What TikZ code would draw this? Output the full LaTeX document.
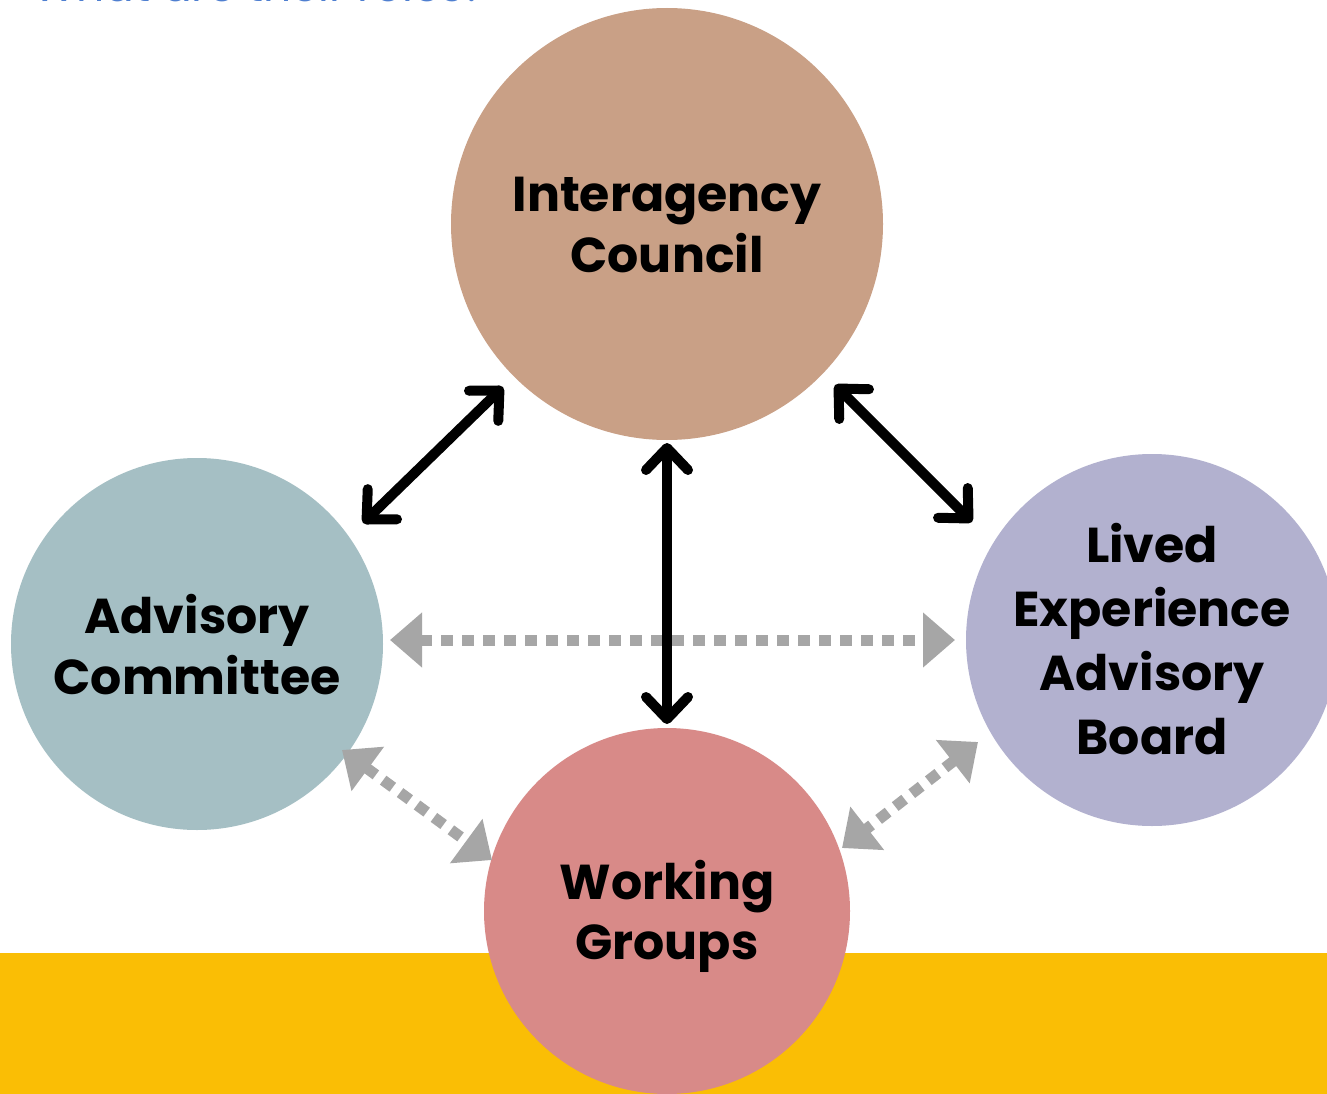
\documentclass[tikz,border=0pt]{standalone}
\usepackage{fontspec}
\setmainfont{Poppins}
\usetikzlibrary{arrows.meta,calc}
\definecolor{icC}{HTML}{C9A086}
\definecolor{acC}{HTML}{A5BFC4}
\definecolor{leC}{HTML}{B2B1CF}
\definecolor{wgC}{HTML}{D88A88}
\definecolor{bandC}{HTML}{FABE05}
\definecolor{grayA}{HTML}{A6A6A6}
\definecolor{blueT}{HTML}{4F7FD0}
\begin{document}
\begin{tikzpicture}[x=1pt,y=-1pt,
  circ/.style={circle,inner sep=0pt,minimum size=#1},
  lbl/.style={inner sep=0pt,align=center,text=black,font=\bfseries\fontsize{49}{#1}\selectfont},
  barrow/.style={line width=10pt,draw=black,{Straight Barb[round,length=22pt,width=42pt]}-{Straight Barb[round,length=22pt,width=42pt]}},
  garrow/.style={line width=11pt,draw=grayA,dash pattern=on 12pt off 9pt,{Triangle[length=32pt,width=53pt,fill=grayA]}-{Triangle[length=32pt,width=53pt,fill=grayA]}}
]
\useasboundingbox (0,0) rectangle (1327,1094);
\begin{scope}
\clip (0,0) rectangle (1327,1094);
\fill[white] (0,0) rectangle (1327,1094);
\node[anchor=base east,text=blueT,font=\fontsize{44}{44}\selectfont] (title) at (490,1.5) {What are their roles?};
\fill[bandC] (0,953) rectangle (1327,1094);
\node[circ=432pt,fill=icC] (ic) at (667,224) {};
\node[circ=372pt,fill=acC] (ac) at (197,644) {};
\node[circ=372pt,fill=leC] (le) at (1152,640) {};
\node[circ=366pt,fill=wgC] (wg) at (667,911) {};
\node[lbl=61] (ict) at ($(ic.center)+(0,1)$) {Interagency\\Council};
\node[lbl=61] (act) at ($(ac.center)+(0,1)$) {Advisory\\Committee};
\node[lbl=64] (let) at ($(le.center)+(0,-1)$) {Lived\\Experience\\Advisory\\Board};
\node[lbl=60] (wgt) at ($(wg.center)+(0,5)$) {Working\\Groups};

\coordinate (a1) at ($(ic.center)+(-164,163)$);
\coordinate (a2) at ($(ac.center)+(166,-121)$);
\coordinate (c1) at ($(ic.center)+(0,219)$);
\coordinate (c2) at ($(wg.center)+(0,-187)$);
\coordinate (r1) at ($(ic.center)+(168,161)$);
\coordinate (r2) at ($(le.center)+(-180,-118)$);
\coordinate (h1) at ($(ac.center)+(193,-4)$);
\coordinate (h2) at ($(le.center)+(-197,0)$);
\coordinate (l1) at ($(ac.center)+(145,106)$);
\coordinate (l2) at ($(wg.center)+(-175,-51)$);
\coordinate (m1) at ($(le.center)+(-174,102)$);
\coordinate (m2) at ($(wg.center)+(175,-63)$);

\draw[garrow] (h1) -- (h2);
\draw[garrow] (l1) -- (l2);
\draw[garrow] (m1) -- (m2);
\draw[barrow] (a1) -- (a2);
\draw[barrow] (c1) -- (c2);
\draw[barrow] (r1) -- (r2);
\end{scope}
\end{tikzpicture}
\end{document}
